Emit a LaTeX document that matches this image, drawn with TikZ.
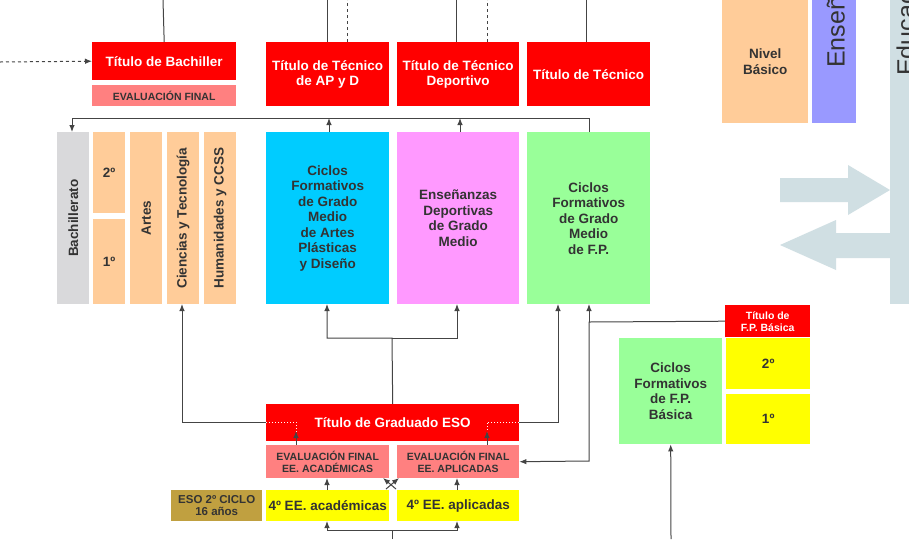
\documentclass[tikz,border=0pt]{standalone}
\usepackage{fontspec}
\setmainfont{Liberation Sans}
\usetikzlibrary{arrows.meta}
\definecolor{rd}{HTML}{FF0000}
\definecolor{sal}{HTML}{FF8080}
\definecolor{pea}{HTML}{FFCC99}
\definecolor{cy}{HTML}{00CCFF}
\definecolor{pk}{HTML}{FF99FF}
\definecolor{gr}{HTML}{99FF99}
\definecolor{ye}{HTML}{FFFF00}
\definecolor{gy}{HTML}{D9D9DB}
\definecolor{ol}{HTML}{C0A040}
\definecolor{ar}{HTML}{D0DFE3}
\definecolor{pu}{HTML}{9999FF}
\definecolor{tx}{HTML}{333333}
\definecolor{ln}{HTML}{444444}
\tikzset{
 bx/.style={draw=none,inner sep=1pt,align=center,font=\bfseries\fontsize{13.5}{15.5}\selectfont,text=tx},
 sm/.style={font=\bfseries\fontsize{10.5}{12}\selectfont},
 redbx/.style={bx,fill=rd,text=white},
 con/.style={draw=ln,line width=1pt},
 arr/.style={con,-{Latex[length=7pt,width=5.5pt]}}
}
\newcommand{\bxat}[6]{\node[#1,minimum width=#4-#2,minimum height=#5-#3,anchor=north west] (#6) at (#2,#3)}
\begin{document}
\begin{tikzpicture}[x=1pt,y=-1pt]
\useasboundingbox[fill=white] (0,0) rectangle (909,539);
% top right
\bxat{bx,fill=pea}{722}{0}{808}{123}{nb} {Nivel\\Básico};
\begin{scope}
\clip (812,0) rectangle (856,123);
\fill[pu] (812,0) rectangle (856,123);
\node[bx,rotate=90,anchor=south west,inner sep=0pt,font=\fontsize{25}{27}\selectfont] (ens) at (845,68) {Enseñanzas};
\end{scope}
\begin{scope}
\clip (890,0) rectangle (909,304);
\fill[ar] (890,0) rectangle (909,304);
\node[bx,rotate=90,anchor=south west,inner sep=0pt,font=\fontsize{25}{27}\selectfont] (edu) at (915,76) {Educación};
\end{scope}
\fill[ar] (780,178) -- (848,178) -- (848,165) -- (890,190) -- (848,215) -- (848,202) -- (780,202) -- cycle;
\fill[ar] (890,233) -- (836,233) -- (836,220) -- (780,245) -- (836,270) -- (836,258) -- (890,258) -- cycle;
% titles
\bxat{redbx}{92}{42}{236}{80}{tb} {Título de Bachiller};
\bxat{bx,sm,fill=sal}{92}{85}{236}{106}{ef} {EVALUACIÓN FINAL};
\bxat{redbx}{266}{42}{389}{106}{tap} {Título de Técnico\\de AP y D};
\bxat{redbx}{397}{42}{519}{106}{ttd} {Título de Técnico\\Deportivo};
\bxat{redbx}{527}{42}{650}{106}{tt} {Título de Técnico};
% columns
\bxat{bx,fill=gy}{57}{132}{89}{304}{bach} {};
\node[bx,rotate=90] at (bach) {Bachillerato};
\bxat{bx,fill=pea}{93}{132}{125}{213}{b2} {2º};
\bxat{bx,fill=pea}{93}{219}{125}{304}{b1} {1º};
\bxat{bx,fill=pea}{130}{132}{162}{304}{art} {};
\node[bx,rotate=90] at (art) {Artes};
\bxat{bx,fill=pea}{167}{132}{199}{304}{cyt} {};
\node[bx,rotate=90] at (cyt) {Ciencias y Tecnología};
\bxat{bx,fill=pea}{204}{132}{236}{304}{hum} {};
\node[bx,rotate=90] at (hum) {Humanidades y CCSS};
\bxat{bx,fill=cy}{266}{132}{389}{304}{cap} {Ciclos\\Formativos\\de Grado\\Medio\\de Artes\\Plásticas\\y Diseño};
\bxat{bx,fill=pk}{397}{132}{519}{304}{edm} {Enseñanzas\\Deportivas\\de Grado\\Medio};
\bxat{bx,fill=gr}{527}{132}{650}{304}{cfp} {Ciclos\\Formativos\\de Grado\\Medio\\de F.P.};
% FP basica
\bxat{redbx,sm}{725}{305}{810}{337}{tfb} {Título de\\F.P. Básica};
\bxat{bx,fill=gr}{619}{338}{722}{444}{fpb} {Ciclos\\Formativos\\de F.P.\\Básica};
\bxat{bx,fill=ye}{726}{338}{810}{389}{f2} {2º};
\bxat{bx,fill=ye}{726}{394}{810}{444}{f1} {1º};
% ESO
\bxat{redbx}{266}{404}{519}{441}{geso} {Título de Graduado ESO};
\bxat{bx,sm,fill=sal}{266}{445}{389}{478}{eac} {EVALUACIÓN FINAL\\EE. ACADÉMICAS};
\bxat{bx,sm,fill=sal}{397}{445}{519}{478}{eap} {EVALUACIÓN FINAL\\EE. APLICADAS};
\bxat{bx,fill=ye}{266}{490}{389}{521}{cac} {4º EE. académicas};
\bxat{bx,fill=ye}{397}{490}{519}{521}{cap2} {4º EE. aplicadas};
\bxat{bx,fill=ol,font=\bfseries\fontsize{11.5}{12.5}\selectfont}{171}{490}{262}{521}{eso} {ESO 2º CICLO\\16 años};
% top lines
\coordinate (lft) at (0,62);
\draw[arr,dashed] (lft) -- (tb.west);
\draw[con] (tb.north) -- (163,0);
\draw[con] (327,42) -- (327,0);
\draw[con,dashed] (347,42) -- (347,0);
\draw[con] (456,42) -- (456,0);
\draw[con,dashed] (487,42) -- (487,0);
\draw[con] (586,42) -- (586,0);
% line under titles
\draw[arr] (589,132) -- (589,118) -- (72,118) -- (72,132);
\draw[arr] (329,132) -- (329,118);
\draw[arr] (460,132) -- (460,118);
% graduado connectors
\draw[arr] (geso.north) -- (392,338) -- (327,338) -- (327,304);
\draw[arr] (392,338) -- (457,338) -- (457,304);
\draw[arr] (266,422) -- (182,422) -- (182,304);
\draw[arr] (519,422) -- (558,422) -- (558,304);
\draw[con,white,dotted] (266,422) -- (296,422) -- (296,432);
\draw[con,white,dotted] (519,422) -- (487,422) -- (487,432);
\draw[arr] (296,445) -- (296,431);
\draw[arr] (487,445) -- (487,431);
\draw[arr] (tfb.west) -- (589,322) -- (589,461) -- (eap.east);
\draw[arr] (589,322) -- (589,304);
\draw[arr] (671,539) -- (fpb.south);
% 4o
\draw[arr] (327,490) -- (327,478);
\draw[arr] (457,490) -- (457,478);
\draw[arr] (386,489) -- (399,478);
\draw[arr] (396,489) -- (383,478);
\draw[arr] (392,539) -- (392,530) -- (327,530) -- (327,521);
\draw[arr] (392,530) -- (457,530) -- (457,521);
\end{tikzpicture}
\end{document}
